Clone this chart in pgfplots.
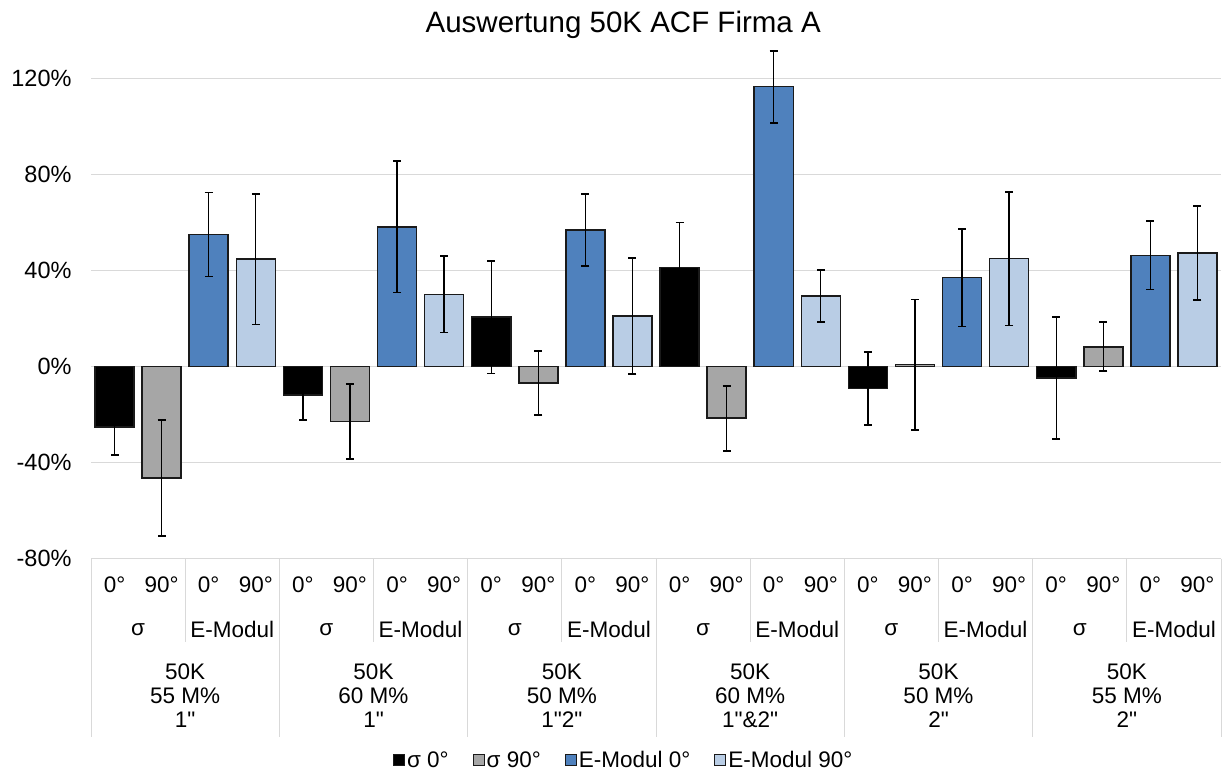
\documentclass[border=0pt]{standalone}
\usepackage{fontspec}
\setmainfont{Liberation Sans}[Ligatures=TeXOff]
\usepackage{pgfplots}
\pgfplotsset{compat=1.18}

\definecolor{sigmaNull}{HTML}{000000}
\definecolor{sigmaNeunzig}{HTML}{A6A6A6}
\definecolor{emodNull}{HTML}{4F81BD}
\definecolor{emodNeunzig}{HTML}{B9CDE5}
\definecolor{gridgray}{HTML}{D9D9D9}
\definecolor{edge}{HTML}{1A1A1A}

\newcommand{\catfont}{\fontsize{22.5bp}{24bp}\selectfont}

\begin{document}
\begin{tikzpicture}
\path[use as bounding box] (0,0) rectangle (1224bp,773bp);
\begin{axis}[
  at={(91bp,214.3bp)}, anchor=south west,
  scale only axis, width=1130bp, height=516.4bp,
  xmin=-0.5, xmax=23.5, ymin=-80, ymax=135,
  clip=false,
  axis line style={draw=none},
  major tick length=0pt,
  ytick={-80,-40,0,40,80,120},
  ymajorgrids, grid style={gridgray, line width=1bp},
  /pgf/number format/assume math mode=true,
  yticklabel={\pgfmathprintnumber{\tick}\%},
  yticklabel style={font=\fontsize{23.5bp}{24bp}\selectfont, anchor=east, xshift=-16bp},
  xtick={0,...,23},
  xticklabels={0°,90°,0°,90°,0°,90°,0°,90°,0°,90°,0°,90°,0°,90°,0°,90°,0°,90°,0°,90°,0°,90°,0°,90°},
  xticklabel style={font=\catfont, anchor=center, yshift=-26bp},
  bar width=0.83,
  error bars/error bar style={line width=1.3bp, black},
  error bars/error mark options={rotate=90, line width=1.8bp, mark size=4bp, black},
  legend columns=4,
  legend style={at={(0.4715,-0.39)}, anchor=center, draw=none, fill=none,
    font=\catfont, inner sep=0pt,
    /tikz/every even column/.append style={column sep=22bp},
    nodes={inner sep=2bp}},
  legend image code/.code={\draw[#1, line width=1bp] (0bp,-5.5bp) rectangle (11bp,5.5bp);},
]

% sigma 0 deg
\addplot[ybar, bar shift=0pt, fill=sigmaNull, draw=edge, line width=1.5bp,
  error bars/.cd, y dir=both, y explicit]
  coordinates {(0,-25.2) +- (0,11.6) (4,-11.8) +- (0,10.4) (8,20.6) +- (0,23.5)
               (12,41.3) +- (0,18.7) (16,-9.2) +- (0,15.1) (20,-4.8) +- (0,25.4)};
\addlegendentry{σ 0°}

% sigma 90 deg
\addplot[ybar, bar shift=0pt, fill=sigmaNeunzig, draw=edge, line width=1.5bp,
  error bars/.cd, y dir=both, y explicit]
  coordinates {(1,-46.4) +- (0,24.0) (5,-22.9) +- (0,15.5) (9,-6.8) +- (0,13.4)
               (13,-21.5) +- (0,13.5) (17,0.8) +- (0,27.1) (21,8.2) +- (0,10.2)};
\addlegendentry{σ 90°}

% E-Modul 0 deg
\addplot[ybar, bar shift=0pt, fill=emodNull, draw=edge, line width=1.5bp,
  error bars/.cd, y dir=both, y explicit]
  coordinates {(2,55.0) +- (0,17.5) (6,58.2) +- (0,27.4) (10,56.8) +- (0,14.9)
               (14,116.5) +- (0,15.0) (18,37.0) +- (0,20.3) (22,46.3) +- (0,14.2)};
\addlegendentry{E-Modul 0°}

% E-Modul 90 deg
\addplot[ybar, bar shift=0pt, fill=emodNeunzig, draw=edge, line width=1.5bp,
  error bars/.cd, y dir=both, y explicit]
  coordinates {(3,44.7) +- (0,27.2) (7,30.1) +- (0,15.9) (11,21.1) +- (0,24.1)
               (15,29.3) +- (0,10.9) (19,44.9) +- (0,27.8) (23,47.2) +- (0,19.5)};
\addlegendentry{E-Modul 90°}

% category table below the plot
\draw[gridgray, line width=1bp] (axis cs:-0.5,-80) -- (axis cs:23.5,-80);
\pgfplotsinvokeforeach{-0.5,3.5,7.5,11.5,15.5,19.5,23.5}{
  \draw[gridgray, line width=1bp] (axis cs:#1,-80) -- ([yshift=-178bp]axis cs:#1,-80);
}
\pgfplotsinvokeforeach{1.5,5.5,9.5,13.5,17.5,21.5}{
  \draw[gridgray, line width=1bp] (axis cs:#1,-80) -- ([yshift=-83bp]axis cs:#1,-80);
}
\pgfplotsinvokeforeach{0.5,4.5,8.5,12.5,16.5,20.5}{
  \node[font=\catfont] at (axis cs:#1,-80) [yshift=-71bp] {σ};
}
\pgfplotsinvokeforeach{2.5,6.5,10.5,14.5,18.5,22.5}{
  \node[font=\catfont] at (axis cs:#1,-80) [yshift=-71bp] {E-Modul};
}
\node[font=\catfont, align=center] at (axis cs:1.5,-80) [yshift=-137bp] {50K\\55 M\%\\1"};
\node[font=\catfont, align=center] at (axis cs:5.5,-80) [yshift=-137bp] {50K\\60 M\%\\1"};
\node[font=\catfont, align=center] at (axis cs:9.5,-80) [yshift=-137bp] {50K\\50 M\%\\1"2"};
\node[font=\catfont, align=center] at (axis cs:13.5,-80) [yshift=-137bp] {50K\\60 M\%\\1"\&2"};
\node[font=\catfont, align=center] at (axis cs:17.5,-80) [yshift=-137bp] {50K\\50 M\%\\2"};
\node[font=\catfont, align=center] at (axis cs:21.5,-80) [yshift=-137bp] {50K\\55 M\%\\2"};

% chart title
\node[font=\fontsize{29.5bp}{32bp}\selectfont] at (rel axis cs:0.471,1) [yshift=17bp] {Auswertung 50K ACF Firma A};
\end{axis}
\end{tikzpicture}
\end{document}
